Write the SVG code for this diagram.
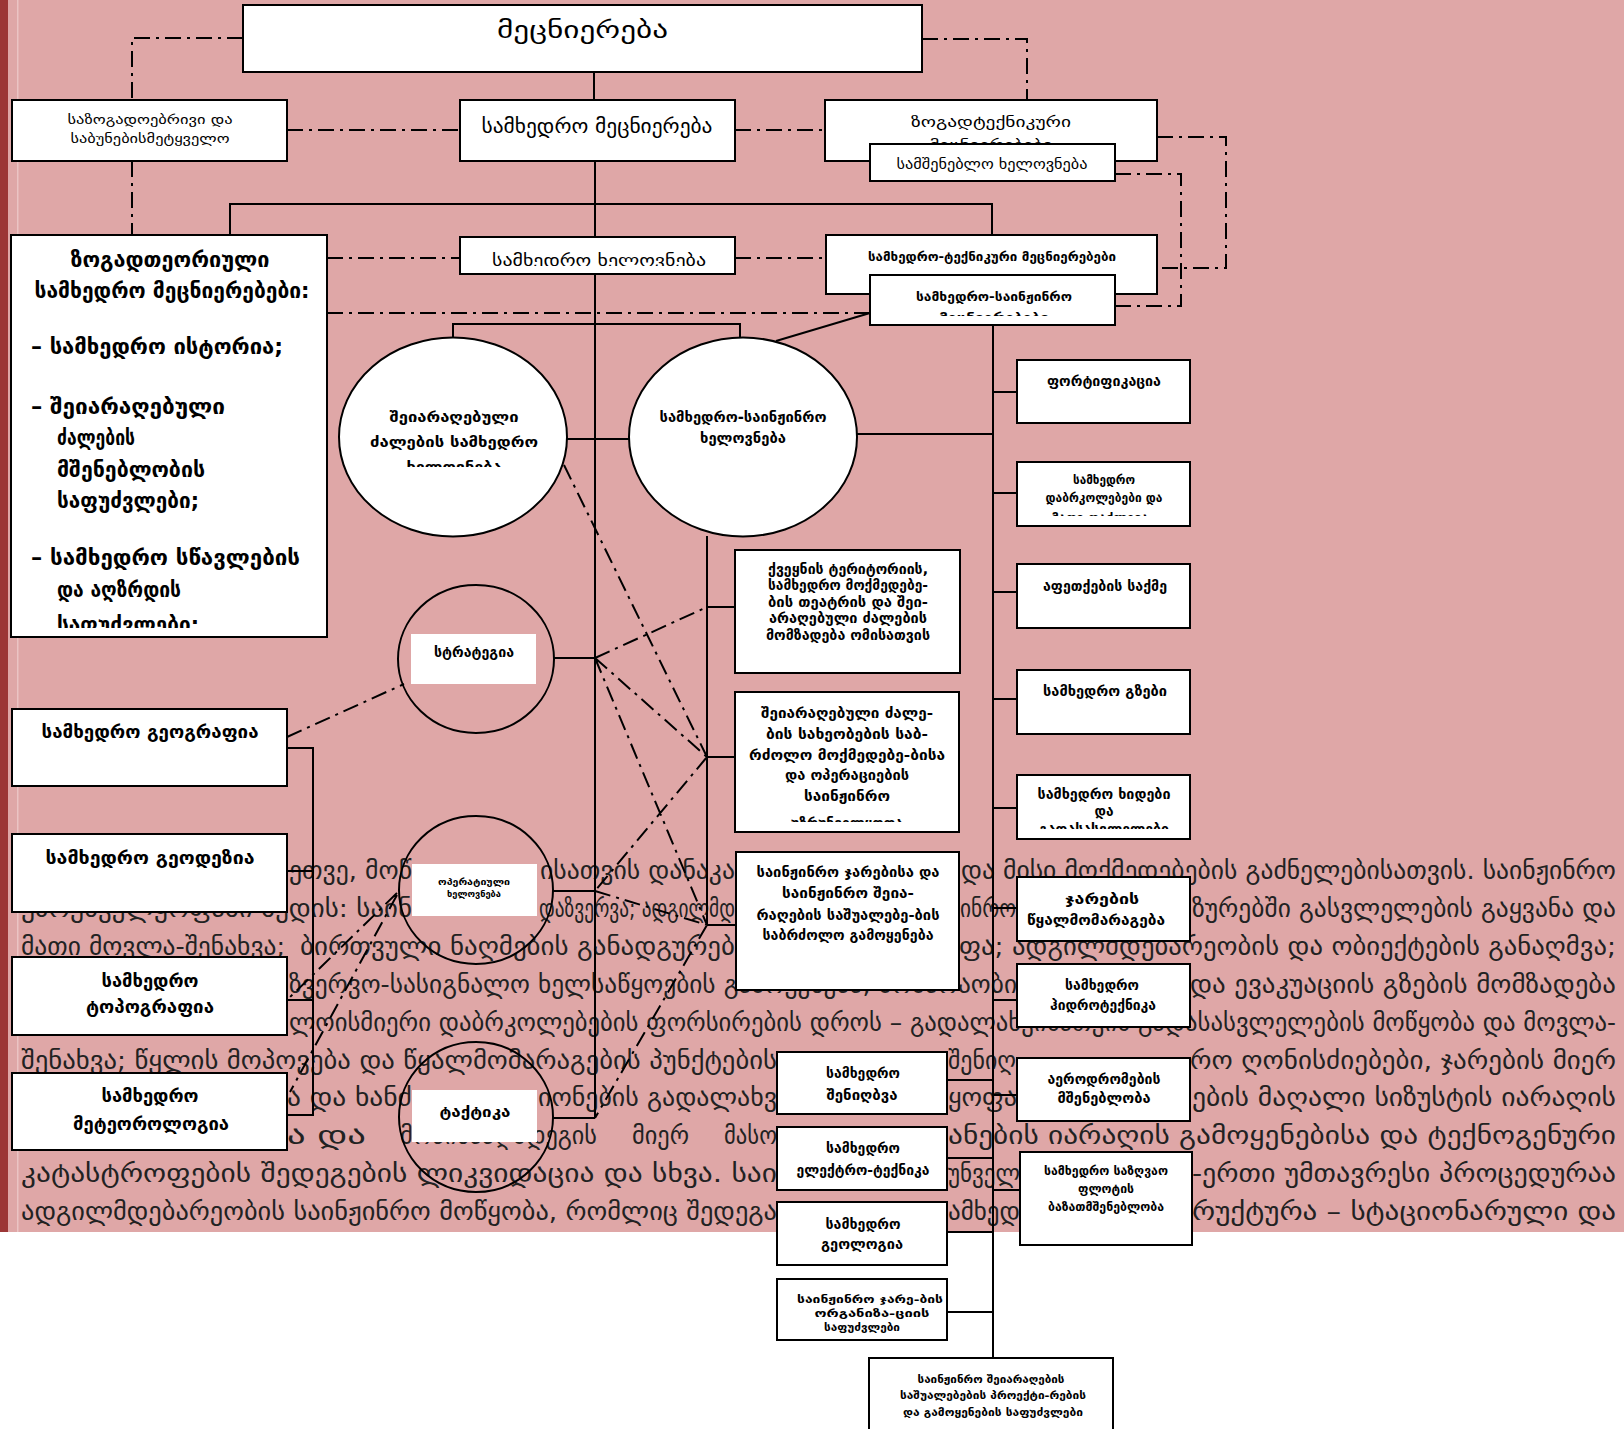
<svg xmlns="http://www.w3.org/2000/svg" width="1624" height="1429" viewBox="0 0 1624 1429">
<defs>
<style>
.bx{fill:#fff;stroke:#000;stroke-width:2}
.el{fill:#fff;stroke:#000;stroke-width:2}
.rg{fill:none;stroke:#000;stroke-width:2}
.wr{fill:#fff}
.ln{fill:none;stroke:#000;stroke-width:2}
.dd{fill:none;stroke:#000;stroke-width:2;stroke-dasharray:16 6 3 6}
.p{font-family:"DejaVu Sans",sans-serif;font-size:25px;fill:#222}
.t{font-family:"DejaVu Sans",sans-serif;fill:#000;text-anchor:middle}
.s{text-anchor:start}
.b{font-weight:bold}
</style>
<clipPath id="cpPage"><rect x="0" y="0" width="1624" height="1232"/></clipPath>
<clipPath id="cpTheory"><rect x="11" y="235" width="316" height="393"/></clipPath>
<clipPath id="cpArt"><rect x="460" y="237" width="275" height="29"/></clipPath>
<clipPath id="cpEngSci"><rect x="870" y="275" width="245" height="41"/></clipPath>
<clipPath id="cpC9"><rect x="339" y="337" width="228" height="130"/></clipPath>
<clipPath id="cpObst"><rect x="1017" y="462" width="173" height="54"/></clipPath>
<clipPath id="cpBridge"><rect x="1017" y="775" width="173" height="54"/></clipPath>
<clipPath id="cpB33"><rect x="735" y="692" width="224" height="130"/></clipPath>
</defs>

<rect x="0" y="0" width="1624" height="1429" fill="#ffffff"/>
<rect x="0" y="0" width="1624" height="1232" fill="#DFA7A7"/>
<rect x="0" y="0" width="8" height="1232" fill="#9C3636"/>
<rect x="17" y="0" width="1.5" height="1232" fill="#EBC4C4"/>

<g id="paragraph" clip-path="url(#cpPage)" class="p">
<text x="289" y="879" textLength="123" lengthAdjust="spacingAndGlyphs">ეთვე, მოწ</text>
<text x="540" y="879" textLength="195" lengthAdjust="spacingAndGlyphs">ისათვის დანაკა</text>
<text x="961" y="879" textLength="655" lengthAdjust="spacingAndGlyphs">და მისი მოქმედებების გაძნელებისათვის. საინჟინრო</text>
<text x="21" y="917" textLength="391" lengthAdjust="spacingAndGlyphs">უზრუნველყოფაში შედის: საინ</text>
<text x="539" y="917" textLength="196" lengthAdjust="spacingAndGlyphs">დაზვერვა; ადგილმდ</text>
<text x="960" y="917" textLength="56" lengthAdjust="spacingAndGlyphs">ინრო</text>
<text x="1192" y="917" textLength="424" lengthAdjust="spacingAndGlyphs">ზურებში გასვლელების გაყვანა და</text>
<text x="21" y="955" textLength="264" lengthAdjust="spacingAndGlyphs">მათი მოვლა-შენახვა;</text>
<text x="300" y="955" textLength="435" lengthAdjust="spacingAndGlyphs">ბირთვული ნაღმების განადგურებ</text>
<text x="959" y="955" textLength="657" lengthAdjust="spacingAndGlyphs">ფა; ადგილმდებარეობის და ობიექტების განაღმვა;</text>
<text x="289" y="993" textLength="728" lengthAdjust="spacingAndGlyphs">ზვერვო-სასიგნალო ხელსაწყოების გამოყენება, მომარაობი</text>
<text x="1190" y="993" textLength="426" lengthAdjust="spacingAndGlyphs">და ევაკუაციის გზების მომზადება</text>
<text x="289" y="1031" textLength="1327" lengthAdjust="spacingAndGlyphs">ლოისმიერი დაბრკოლებების ფორსირების დროს – გადალახვისათვის გადასასვლელების მოწყობა და მოვლა-</text>
<text x="21" y="1069" textLength="756" lengthAdjust="spacingAndGlyphs">შენახვა; წყლის მოპოვება და წყალმომარაგების პუნქტების</text>
<text x="948" y="1069" textLength="68" lengthAdjust="spacingAndGlyphs">შენიღ</text>
<text x="1190" y="1069" textLength="426" lengthAdjust="spacingAndGlyphs">რო ღონისძიებები, ჯარების მიერ</text>
<text x="287" y="1106" textLength="125" lengthAdjust="spacingAndGlyphs">ა და ხანძ</text>
<text x="538" y="1106" textLength="239" lengthAdjust="spacingAndGlyphs">იონების გადალახვ</text>
<text x="948" y="1106" textLength="69" lengthAdjust="spacingAndGlyphs">ყოფა</text>
<text x="1192" y="1106" textLength="424" lengthAdjust="spacingAndGlyphs">ების მაღალი სიზუსტის იარაღის</text>
<text x="287" y="1144" textLength="79" lengthAdjust="spacingAndGlyphs">ა და</text>
<text x="400" y="1144" textLength="197" lengthAdjust="spacingAndGlyphs">მოწინააღმდეგის</text>
<text x="632" y="1144" textLength="57" lengthAdjust="spacingAndGlyphs">მიერ</text>
<text x="724" y="1144" textLength="53" lengthAdjust="spacingAndGlyphs">მასო</text>
<text x="948" y="1144" textLength="668" lengthAdjust="spacingAndGlyphs">ანების იარაღის გამოყენებისა და ტექნოგენური</text>
<text x="21" y="1182" textLength="756" lengthAdjust="spacingAndGlyphs">კატასტროფების შედეგების ლიკვიდაცია და სხვა. საი</text>
<text x="948" y="1182" textLength="72" lengthAdjust="spacingAndGlyphs">უნველ</text>
<text x="1192" y="1182" textLength="424" lengthAdjust="spacingAndGlyphs">-ერთი უმთავრესი პროცედურაა</text>
<text x="21" y="1220" textLength="756" lengthAdjust="spacingAndGlyphs">ადგილმდებარეობის საინჟინრო მოწყობა, რომლიც შედეგა</text>
<text x="948" y="1220" textLength="72" lengthAdjust="spacingAndGlyphs">ამხედ</text>
<text x="1192" y="1220" textLength="424" lengthAdjust="spacingAndGlyphs">რუქტურა – სტაციონარული და</text>
</g>

<g id="connectors">
<path class="ln" d="M594 72V100M595 161V1118M230 235V204H992V235M453 337V324H740V337M567 439H629M776 341L870 313M857 434H993M993 325V1359"/>
<path class="ln" d="M993 392H1017M993 493H1017M993 592H1017M993 699H1017M993 808H1017M993 908H1017M993 1000H1017M993 1095H1017M993 1190H1020"/>
<path class="ln" d="M948 1080H993M948 1158H993M948 1232H993M948 1312H993"/>
<path class="ln" d="M707 536V925M707 607H735M707 757H735M707 925H736"/>
<path class="ln" d="M553 658H595M553 891H595M553 1118H595"/>
<path class="ln" d="M287 748H313V1115H287M287 871H313M287 1000H313"/>
<path class="dd" d="M243 38H132V100M132 161V235M922 39H1027V100M287 130H460M735 130H825M1157 137H1226V268H1157M1115 174H1181V306H1115M327 258H460M735 258H826M327 313H870"/>
<path class="dd" d="M287 737L404 684M564 465L707 757M595 658L707 607M595 658L707 757M595 658L707 925M707 757L595 891M595 891L707 925M707 925L595 1118M397 893L287 1000M397 895L290 1092"/>
</g>

<g id="n-science"><rect class="bx" x="243" y="5" width="679" height="67"/><text class="t" x="582.5" y="38" font-size="24" textLength="171" lengthAdjust="spacingAndGlyphs">მეცნიერება</text></g>
<g id="n-social"><rect class="bx" x="12" y="100" width="275" height="61"/><text class="t" x="150" y="124" font-size="13" textLength="165" lengthAdjust="spacingAndGlyphs">საზოგადოებრივი და</text><text class="t" x="150" y="143" font-size="13" textLength="159" lengthAdjust="spacingAndGlyphs">საბუნებისმეტყველო</text></g>
<g id="n-milsci"><rect class="bx" x="460" y="100" width="275" height="61"/><text class="t" x="597" y="133" font-size="19" textLength="231" lengthAdjust="spacingAndGlyphs">სამხედრო მეცნიერება</text></g>
<g id="n-gentech"><rect class="bx" x="825" y="100" width="332" height="61"/><text class="t" x="991" y="127" font-size="15" textLength="160" lengthAdjust="spacingAndGlyphs">ზოგადტექნიკური</text><text class="t" x="991" y="150" font-size="15" textLength="123" lengthAdjust="spacingAndGlyphs">მეცნიერებები</text></g>
<g id="n-constr"><rect class="bx" x="870" y="144" width="245" height="37"/><text class="t" x="992" y="169" font-size="14" textLength="191" lengthAdjust="spacingAndGlyphs">სამშენებლო ხელოვნება</text></g>
<g id="n-theory"><rect class="bx" x="11" y="235" width="316" height="402"/>
<g clip-path="url(#cpTheory)" font-size="22" font-weight="bold">
<text class="t" x="170" y="267" textLength="199" lengthAdjust="spacingAndGlyphs">ზოგადთეორიული</text>
<text class="t" x="172" y="298" textLength="275" lengthAdjust="spacingAndGlyphs">სამხედრო მეცნიერებები:</text>
<text class="t s" x="31" y="354" textLength="252" lengthAdjust="spacingAndGlyphs">– სამხედრო ისტორია;</text>
<text class="t s" x="31" y="414" textLength="194" lengthAdjust="spacingAndGlyphs">– შეიარაღებული</text>
<text class="t s" x="57" y="445" textLength="78" lengthAdjust="spacingAndGlyphs">ძალების</text>
<text class="t s" x="57" y="477" textLength="148" lengthAdjust="spacingAndGlyphs">მშენებლობის</text>
<text class="t s" x="57" y="508" textLength="142" lengthAdjust="spacingAndGlyphs">საფუძვლები;</text>
<text class="t s" x="31" y="565" textLength="269" lengthAdjust="spacingAndGlyphs">– სამხედრო სწავლების</text>
<text class="t s" x="57" y="597" textLength="124" lengthAdjust="spacingAndGlyphs">და აღზრდის</text>
<text class="t s" x="57" y="632" textLength="142" lengthAdjust="spacingAndGlyphs">საფუძვლები:</text>
</g></g>
<g id="n-milart"><rect class="bx" x="460" y="237" width="275" height="37"/><text class="t" x="599" y="266" font-size="17" textLength="214" lengthAdjust="spacingAndGlyphs" clip-path="url(#cpArt)">სამხედრო ხელოვნება</text></g>
<g id="n-miltech"><rect class="bx" x="826" y="235" width="331" height="59"/><text class="t b" x="992" y="261" font-size="13" textLength="248" lengthAdjust="spacingAndGlyphs">სამხედრო-ტექნიკური მეცნიერებები</text></g>
<g id="n-engsci"><rect class="bx" x="870" y="275" width="245" height="50"/><g clip-path="url(#cpEngSci)" class="b" font-size="13"><text class="t" x="994" y="301" textLength="156" lengthAdjust="spacingAndGlyphs">სამხედრო-საინჟინრო</text><text class="t" x="994" y="322" textLength="110" lengthAdjust="spacingAndGlyphs">მეცნიერებები</text></g></g>

<g id="n-forces-art"><ellipse class="el" cx="453" cy="437" rx="114" ry="99.5"/><g clip-path="url(#cpC9)" class="b" font-size="15"><text class="t" x="454" y="422" textLength="129" lengthAdjust="spacingAndGlyphs">შეიარაღებული</text><text class="t" x="454" y="447" textLength="168" lengthAdjust="spacingAndGlyphs">ძალების სამხედრო</text><text class="t" x="454" y="472" textLength="95" lengthAdjust="spacingAndGlyphs">ხელოვნება</text></g></g>
<g id="n-eng-art"><ellipse class="el" cx="743" cy="437" rx="114" ry="99.5"/><text class="t b" x="743" y="422" font-size="15" textLength="167" lengthAdjust="spacingAndGlyphs">სამხედრო-საინჟინრო</text><text class="t b" x="743" y="443" font-size="15" textLength="86" lengthAdjust="spacingAndGlyphs">ხელოვნება</text></g>
<g id="n-strategy"><ellipse class="rg" cx="476" cy="659" rx="78" ry="74"/><rect class="wr" x="411" y="634" width="125" height="50"/><text class="t b" x="474" y="657" font-size="14" textLength="80" lengthAdjust="spacingAndGlyphs">სტრატეგია</text></g>
<g id="n-operative"><ellipse class="rg" cx="476" cy="890" rx="77" ry="74"/><rect class="wr" x="412" y="864" width="125" height="52"/><text class="t b" x="474" y="885" font-size="9.5" textLength="72" lengthAdjust="spacingAndGlyphs">ოპერატიული</text><text class="t b" x="474" y="897" font-size="9.5" textLength="54" lengthAdjust="spacingAndGlyphs">ხელოვნება</text></g>
<g id="n-tactics"><ellipse class="rg" cx="476" cy="1117" rx="77" ry="75"/><rect class="wr" x="412" y="1090" width="125" height="52"/><text class="t b" x="475" y="1117" font-size="15" textLength="71" lengthAdjust="spacingAndGlyphs">ტაქტიკა</text></g>

<g id="n-geography"><rect class="bx" x="12" y="709" width="275" height="77"/><text class="t b" x="150" y="738" font-size="18" textLength="217" lengthAdjust="spacingAndGlyphs">სამხედრო გეოგრაფია</text></g>
<g id="n-geodesy"><rect class="bx" x="12" y="834" width="275" height="78"/><text class="t b" x="150" y="864" font-size="18" textLength="209" lengthAdjust="spacingAndGlyphs">სამხედრო გეოდეზია</text></g>
<g id="n-topography"><rect class="bx" x="12" y="957" width="275" height="78"/><text class="t b" x="150" y="987" font-size="18" textLength="97" lengthAdjust="spacingAndGlyphs">სამხედრო</text><text class="t b" x="150" y="1013" font-size="18" textLength="128" lengthAdjust="spacingAndGlyphs">ტოპოგრაფია</text></g>
<g id="n-meteorology"><rect class="bx" x="12" y="1073" width="275" height="77"/><text class="t b" x="150" y="1102" font-size="18" textLength="97" lengthAdjust="spacingAndGlyphs">სამხედრო</text><text class="t b" x="151" y="1130" font-size="18" textLength="156" lengthAdjust="spacingAndGlyphs">მეტეოროლოგია</text></g>

<g id="n-territory"><rect class="bx" x="735" y="550" width="225" height="123"/><g class="b" font-size="14"><text class="t" x="848" y="574" textLength="160" lengthAdjust="spacingAndGlyphs">ქვეყნის ტერიტორიის,</text><text class="t" x="848" y="590" textLength="160" lengthAdjust="spacingAndGlyphs">სამხედრო მოქმედებე-</text><text class="t" x="848" y="607" textLength="160" lengthAdjust="spacingAndGlyphs">ბის თეატრის და შეი-</text><text class="t" x="848" y="623" textLength="158" lengthAdjust="spacingAndGlyphs">არაღებული ძალების</text><text class="t" x="848" y="640" textLength="164" lengthAdjust="spacingAndGlyphs">მომზადება ომისათვის</text></g></g>
<g id="n-support"><rect class="bx" x="735" y="692" width="224" height="140"/><g class="b" font-size="14" clip-path="url(#cpB33)"><text class="t" x="847" y="718" textLength="172" lengthAdjust="spacingAndGlyphs">შეიარაღებული ძალე-</text><text class="t" x="847" y="739" textLength="162" lengthAdjust="spacingAndGlyphs">ბის სახეობების საბ-</text><text class="t" x="847" y="760" textLength="196" lengthAdjust="spacingAndGlyphs">რძოლო მოქმედებე-ბისა</text><text class="t" x="847" y="780" textLength="124" lengthAdjust="spacingAndGlyphs">და ოპერაციების</text><text class="t" x="847" y="801" textLength="86" lengthAdjust="spacingAndGlyphs">საინჟინრო</text><text class="t" x="847" y="828" textLength="112" lengthAdjust="spacingAndGlyphs">უზრუნველყოფა</text></g></g>
<g id="n-combat"><rect class="bx" x="736" y="852" width="223" height="138"/><g class="b" font-size="14"><text class="t" x="848" y="877" textLength="183" lengthAdjust="spacingAndGlyphs">საინჟინრო ჯარებისა და</text><text class="t" x="848" y="898" textLength="132" lengthAdjust="spacingAndGlyphs">საინჟინრო შეია-</text><text class="t" x="848" y="920" textLength="183" lengthAdjust="spacingAndGlyphs">რაღების საშუალებე-ბის</text><text class="t" x="848" y="940" textLength="171" lengthAdjust="spacingAndGlyphs">საბრძოლო გამოყენება</text></g></g>

<g id="n-fort"><rect class="bx" x="1017" y="360" width="173" height="63"/><text class="t b" x="1104" y="386" font-size="14" textLength="114" lengthAdjust="spacingAndGlyphs">ფორტიფიკაცია</text></g>
<g id="n-obstacles"><rect class="bx" x="1017" y="462" width="173" height="64"/><g class="b" font-size="12" clip-path="url(#cpObst)"><text class="t" x="1104" y="484" textLength="62" lengthAdjust="spacingAndGlyphs">სამხედრო</text><text class="t" x="1104" y="502" textLength="117" lengthAdjust="spacingAndGlyphs">დაბრკოლებები და</text><text class="t" x="1100" y="522" textLength="97" lengthAdjust="spacingAndGlyphs">მათი დაძლევა</text></g></g>
<g id="n-blast"><rect class="bx" x="1017" y="564" width="173" height="64"/><text class="t b" x="1105" y="591" font-size="14" textLength="124" lengthAdjust="spacingAndGlyphs">აფეთქების საქმე</text></g>
<g id="n-roads"><rect class="bx" x="1017" y="670" width="173" height="64"/><text class="t b" x="1105" y="696" font-size="14" textLength="124" lengthAdjust="spacingAndGlyphs">სამხედრო გზები</text></g>
<g id="n-bridges"><rect class="bx" x="1017" y="775" width="173" height="64"/><g class="b" font-size="14" clip-path="url(#cpBridge)"><text class="t" x="1104" y="799" textLength="133" lengthAdjust="spacingAndGlyphs">სამხედრო ხიდები</text><text class="t" x="1104" y="816" textLength="19" lengthAdjust="spacingAndGlyphs">და</text><text class="t" x="1104" y="834" textLength="130" lengthAdjust="spacingAndGlyphs">გადასასვლელები</text></g></g>
<g id="n-water"><rect class="bx" x="1017" y="877" width="173" height="64"/><g class="b" font-size="14"><text class="t" x="1102" y="904" textLength="74" lengthAdjust="spacingAndGlyphs">ჯარების</text><text class="t" x="1096" y="925" textLength="138" lengthAdjust="spacingAndGlyphs">წყალმომარაგება</text></g></g>
<g id="n-hydro"><rect class="bx" x="1017" y="964" width="173" height="63"/><g class="b" font-size="14"><text class="t" x="1102" y="990" textLength="74" lengthAdjust="spacingAndGlyphs">სამხედრო</text><text class="t" x="1103" y="1010" textLength="106" lengthAdjust="spacingAndGlyphs">ჰიდროტექნიკა</text></g></g>
<g id="n-airfield"><rect class="bx" x="1017" y="1058" width="173" height="63"/><g class="b" font-size="14"><text class="t" x="1104" y="1084" textLength="113" lengthAdjust="spacingAndGlyphs">აეროდრომების</text><text class="t" x="1104" y="1103" textLength="93" lengthAdjust="spacingAndGlyphs">მშენებლობა</text></g></g>
<g id="n-naval"><rect class="bx" x="1020" y="1152" width="172" height="93"/><g class="b" font-size="12"><text class="t" x="1106" y="1175" textLength="124" lengthAdjust="spacingAndGlyphs">სამხედრო საზღვაო</text><text class="t" x="1106" y="1193" textLength="56" lengthAdjust="spacingAndGlyphs">ფლოტის</text><text class="t" x="1106" y="1211" textLength="116" lengthAdjust="spacingAndGlyphs">ბაზათმშენებლობა</text></g></g>

<g id="n-camouflage"><rect class="bx" x="777" y="1052" width="170" height="62"/><g class="b" font-size="14"><text class="t" x="863" y="1078" textLength="74" lengthAdjust="spacingAndGlyphs">სამხედრო</text><text class="t" x="862" y="1100" textLength="71" lengthAdjust="spacingAndGlyphs">შენიღბვა</text></g></g>
<g id="n-electro"><rect class="bx" x="777" y="1127" width="170" height="63"/><g class="b" font-size="14"><text class="t" x="863" y="1153" textLength="74" lengthAdjust="spacingAndGlyphs">სამხედრო</text><text class="t" x="863" y="1175" textLength="133" lengthAdjust="spacingAndGlyphs">ელექტრო-ტექნიკა</text></g></g>
<g id="n-geology"><rect class="bx" x="777" y="1202" width="170" height="63"/><g class="b" font-size="14"><text class="t" x="863" y="1229" textLength="75" lengthAdjust="spacingAndGlyphs">სამხედრო</text><text class="t" x="862" y="1249" textLength="82" lengthAdjust="spacingAndGlyphs">გეოლოგია</text></g></g>
<g id="n-organization"><rect class="bx" x="777" y="1279" width="170" height="61"/><g class="b" font-size="11"><text class="t" x="870" y="1303" textLength="146" lengthAdjust="spacingAndGlyphs">საინჟინრო ჯარე-ბის</text><text class="t" x="872" y="1317" textLength="115" lengthAdjust="spacingAndGlyphs">ორგანიზა-ციის</text><text class="t" x="862" y="1331" textLength="76" lengthAdjust="spacingAndGlyphs">საფუძვლები</text></g></g>
<g id="n-design"><rect class="bx" x="869" y="1358" width="244" height="90"/><g class="b" font-size="11"><text class="t" x="991" y="1383" textLength="147" lengthAdjust="spacingAndGlyphs">საინჟინრო შეიარაღების</text><text class="t" x="993" y="1399" textLength="186" lengthAdjust="spacingAndGlyphs">საშუალებების პროექტი-რების</text><text class="t" x="993" y="1416" textLength="180" lengthAdjust="spacingAndGlyphs">და გამოყენების საფუძვლები</text></g></g>
</svg>
